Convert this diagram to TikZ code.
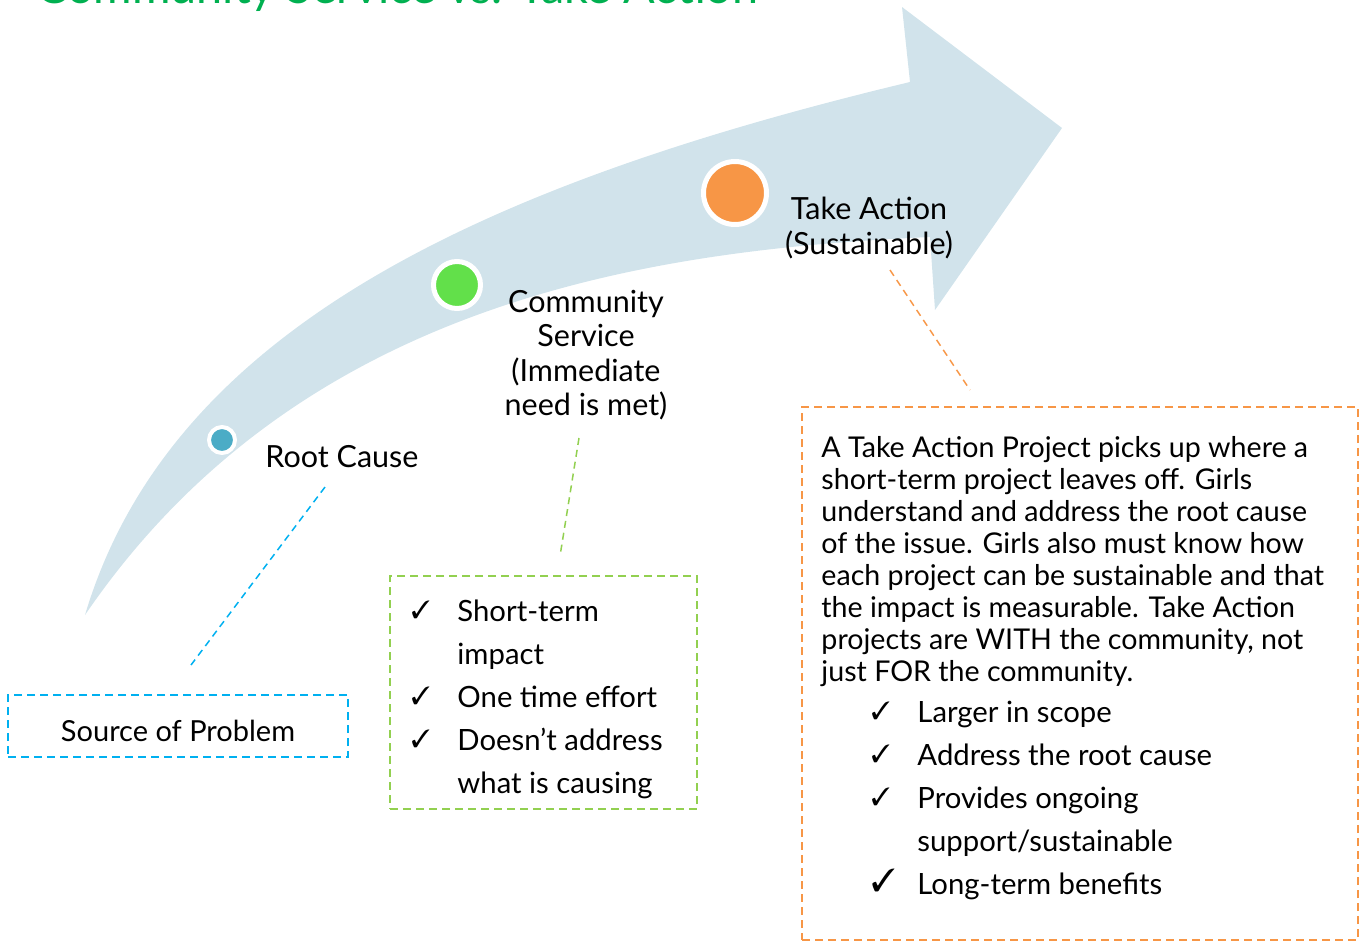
\documentclass[tikz,border=0pt]{standalone}
\usepackage{pifont}
\usepackage{fontspec}
\setmainfont{Lato}
\usetikzlibrary{positioning}

\definecolor{arrowblue}{HTML}{D1E3EB}
\definecolor{rootteal}{HTML}{4BACC6}
\definecolor{servgreen}{HTML}{62E04A}
\definecolor{actorange}{HTML}{F79646}
\definecolor{linecyan}{HTML}{00B0F0}
\definecolor{linegreen}{HTML}{92D050}
\definecolor{titlegreen}{HTML}{00B050}

\tikzstyle{dot} = [circle, draw=white, inner sep=0pt]
\tikzstyle{lbl} = [align=center, inner sep=0pt, font=\fontsize{30.5}{34.5}\selectfont]
\tikzstyle{box} = [draw, rectangle, line width=1.5pt, dash pattern=on 8pt off 5pt]
\tikzstyle{conn} = [line width=1.5pt, dash pattern=on 7pt off 5pt]
\tikzstyle{body} = [align=left, inner sep=0pt, font=\fontsize{28.6}{32}\selectfont]
\tikzstyle{checks} = [inner sep=0pt, font=\fontsize{29.3}{43}\selectfont]

\newcommand{\tick}{\raisebox{3pt}{\fontsize{25}{25}\selectfont\ding{51}}}
\newcommand{\bigtick}{\raisebox{3pt}{\fontsize{32}{32}\selectfont\ding{51}}}

\begin{document}
\begin{tikzpicture}[x=1pt, y=-1pt]
    \useasboundingbox (0,0) rectangle (1362,943);

    % title, cut at the top edge
    \node [anchor=base west, inner sep=0pt, text=titlegreen,
        font=\fontsize{46.8}{52}\selectfont] (title) at (36,3)
        {Community Service vs. Take Action};

    % the big curved arrow
    \fill [arrowblue] (85,615) .. controls (170,330) and (480,185) .. (910,82)
        -- (902,7) -- (1062,128) -- (935,310) -- (930,237)
        .. controls (650,250) and (300,300) .. (85,615) -- cycle;

    % steps along the arrow
    \node [dot, fill=rootteal, minimum size=26pt, line width=4pt] (rootdot) at (222,440) {};
    \node [dot, fill=servgreen, minimum size=47pt, line width=5pt] (servdot) at (457,285) {};
    \node [dot, fill=actorange, minimum size=63pt, line width=5pt] (actdot) at (735,193) {};

    \node [lbl] (rootlbl) at (342,457) {Root Cause};
    \node [lbl] (servlbl) at (586,355) {Community\\Service\\(Immediate\\need is met)};
    \node [lbl] (actlbl) at (869,228) {Take Action\\(Sustainable)};

    % boxes
    \node [box, draw=linecyan, minimum width=340pt, minimum height=62pt,
        text height=30pt, text depth=0pt,
        font=\fontsize{29}{32}\selectfont] (source) at (178,726) {Source of Problem};

    \node [box, draw=linegreen, minimum width=307pt, minimum height=233pt] (servbox) at (543.5,692.5) {};
    \node [checks, anchor=north west, below right=16pt and 22pt of servbox.north west] (servlist) {%
        \begin{tabular}{@{}p{46pt}@{}l@{}}
        \tick & Short-term\\
              & impact\\
        \tick & One time effort\\
        \tick & Doesn’t address\\
              & what is causing
        \end{tabular}};

    \node [box, draw=actorange, minimum width=556pt, minimum height=533pt] (actbox) at (1080,673.5) {};
    \node [body, anchor=north west, below right=30pt and 20pt of actbox.north west] (actpara) {%
        A Take Action Project picks up where a\\
        short-term project leaves off. Girls\\
        understand and address the root cause\\
        of the issue. Girls also must know how\\
        each project can be sustainable and that\\
        the impact is measurable. Take Action\\
        projects are WITH the community, not\\
        just FOR the community.};
    \node [checks, anchor=north west, below right=5pt and 50pt of actpara.south west] (actlist) {%
        \begin{tabular}{@{}p{46pt}@{}l@{}}
        \tick & Larger in scope\\
        \tick & Address the root cause\\
        \tick & Provides ongoing\\
              & support/sustainable\\
        \bigtick & Long-term benefits
        \end{tabular}};

    % dashed leaders from the steps to their boxes
    \coordinate (root-a) at (325,487);
    \coordinate (root-b) at (191,665);
    \coordinate (serv-a) at (579,438);
    \coordinate (serv-b) at (560,556);
    \coordinate (act-a) at (890,270);
    \coordinate (act-b) at (970,390);
    \draw [conn, linecyan] (root-a) -- (root-b);
    \draw [conn, linegreen] (serv-a) -- (serv-b);
    \draw [conn, actorange] (act-a) -- (act-b);
\end{tikzpicture}
\end{document}
